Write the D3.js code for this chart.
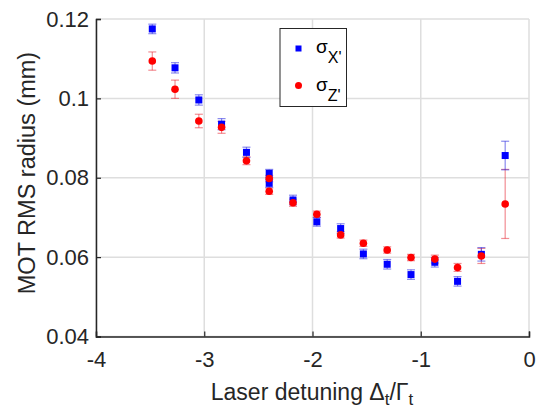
<!DOCTYPE html>
<html>
<head>
<meta charset="utf-8">
<script src="https://cdn.jsdelivr.net/npm/d3@7"></script>
<style>
  body { margin: 0; background: #fff; }
  svg { font-family: "Liberation Sans", Arial, sans-serif; }
</style>
</head>
<body>
<script>
// detuning values (Delta_t / Gamma_t)
const detuning = [-3.48, -3.27, -3.05, -2.84, -2.61, -2.40, -2.40, -2.18, -1.96, -1.74, -1.53, -1.31, -1.09, -0.87, -0.66, -0.44, -0.22]
// sigma x' (mm) and error
const sigmaX = [0.1175, 0.1077, 0.0996, 0.0935, 0.0864, 0.0811, 0.0786, 0.0744, 0.0689, 0.0672, 0.0608, 0.0582, 0.0556, 0.0587, 0.0539, 0.0607, 0.0856]
const errX   = [0.0012, 0.0013, 0.0013, 0.0014, 0.0013, 0.0010, 0.0010, 0.0012, 0.0011, 0.0012, 0.0012, 0.0012, 0.0012, 0.0012, 0.0012, 0.0017, 0.0036]
// sigma z' (mm) and error
const sigmaZ = [0.1094, 0.1023, 0.0943, 0.0927, 0.0843, 0.0798, 0.0766, 0.0737, 0.0708, 0.0656, 0.0635, 0.0618, 0.0599, 0.0595, 0.0574, 0.0603, 0.0734]
const errZ   = [0.0023, 0.0023, 0.0017, 0.0015, 0.0010, 0.0008, 0.0008, 0.0009, 0.0008, 0.0008, 0.0008, 0.0008, 0.0008, 0.0010, 0.0010, 0.0019, 0.0087]

const xTicks = [-4, -3, -2, -1, 0]
const yTicks = [0.04, 0.06, 0.08, 0.1, 0.12]
const xTickLabels = ["-4", "-3", "-2", "-1", "0"]
const yTickLabels = ["0.04", "0.06", "0.08", "0.1", "0.12"]

const W = 539, H = 410
const margin = {left: 96, right: 10, top: 19, bottom: 73.5}

const svg = d3.select("body").append("svg").attr("width", W).attr("height", H)

const x = d3.scaleLinear().domain([-4, 0]).range([margin.left, W - margin.right])
const y = d3.scaleLinear().domain([0.04, 0.12]).range([H - margin.bottom, margin.top])

// grid
svg.append("g").selectAll("line").data(xTicks).enter().append("line")
   .attr("x1", d => x(d)).attr("x2", d => x(d))
   .attr("y1", y(0.04)).attr("y2", y(0.12))
   .attr("stroke", "#dedede").attr("stroke-width", 1.5)
svg.append("g").selectAll("line").data(yTicks).enter().append("line")
   .attr("x1", x(-4)).attr("x2", x(0))
   .attr("y1", d => y(d)).attr("y2", d => y(d))
   .attr("stroke", "#dedede").attr("stroke-width", 1.5)

// axes
const xAxis = d3.axisBottom(x).tickValues(xTicks).tickSize(-5).tickPadding(15)
                .tickFormat((d, i) => xTickLabels[i])
const yAxis = d3.axisLeft(y).tickValues(yTicks).tickSize(-5).tickPadding(7)
                .tickFormat((d, i) => yTickLabels[i])

function styleAxis(g) {
  g.select(".domain").attr("stroke", "#262626").attr("stroke-width", 1.5)
  g.selectAll(".tick line").attr("stroke", "#262626").attr("stroke-width", 1.2)
  g.selectAll("text").attr("fill", "#262626").style("font-size", "22px").style("font-family", "Liberation Sans, Arial, sans-serif")
}

svg.append("g").attr("transform", `translate(0,${y(0.04)})`).call(xAxis).call(styleAxis)
svg.append("g").attr("transform", `translate(${x(-4)},0)`).call(yAxis).call(styleAxis)

// axis labels
svg.append("text")
   .attr("transform", `translate(35,173) rotate(-90)`)
   .attr("text-anchor", "middle")
   .attr("fill", "#262626").style("font-size", "23.5px")
   .text("MOT RMS radius (mm)")

const xl = svg.append("text")
   .attr("x", 312).attr("y", 400)
   .attr("text-anchor", "middle")
   .attr("fill", "#262626").style("font-size", "23px")
xl.append("tspan").text("Laser detuning \u0394")
xl.append("tspan").attr("dy", 5).style("font-size", "17px").text("t")
xl.append("tspan").attr("dy", -5).text("/\u0393")
xl.append("tspan").attr("dy", 5).style("font-size", "17px").text("t")

// error bars
function errorBars(vals, errs, color) {
  const g = svg.append("g").attr("stroke", color).attr("stroke-width", 1.2).attr("stroke-opacity", 0.55)
  detuning.forEach(function(d, i) {
    const cx = x(d), top = y(vals[i] + errs[i]), bot = y(vals[i] - errs[i])
    g.append("line").attr("x1", cx).attr("x2", cx).attr("y1", top).attr("y2", bot)
    g.append("line").attr("x1", cx - 4).attr("x2", cx + 4).attr("y1", top).attr("y2", top)
    g.append("line").attr("x1", cx - 4).attr("x2", cx + 4).attr("y1", bot).attr("y2", bot)
  })
}
errorBars(sigmaZ, errZ, "#e8303a")
errorBars(sigmaX, errX, "#2a2ae0")

// markers
svg.append("g").selectAll("rect").data(detuning).enter().append("rect")
   .attr("x", d => x(d) - 3.5).attr("y", (d, i) => y(sigmaX[i]) - 3.5)
   .attr("width", 7).attr("height", 7)
   .attr("fill", "#0000ff")
svg.append("g").selectAll("circle").data(detuning).enter().append("circle")
   .attr("cx", d => x(d)).attr("cy", (d, i) => y(sigmaZ[i]))
   .attr("r", 3.8)
   .attr("fill", "#ff0000")

// legend
const leg = svg.append("g")
leg.append("rect").attr("x", 280).attr("y", 28.5).attr("width", 66.5).attr("height", 78)
   .attr("fill", "#fff").attr("stroke", "#262626").attr("stroke-width", 1)
leg.append("rect").attr("x", 295.5).attr("y", 45.5).attr("width", 6).attr("height", 6).attr("fill", "#0000ff")
leg.append("circle").attr("cx", 298.5).attr("cy", 85.5).attr("r", 3.5).attr("fill", "#ff0000")
const lt1 = leg.append("text").attr("x", 316).attr("y", 53).attr("fill", "#000").style("font-size", "19px")
lt1.append("tspan").text("\u03c3")
lt1.append("tspan").attr("dy", 10).style("font-size", "16px").text("X'")
const lt2 = leg.append("text").attr("x", 316).attr("y", 91).attr("fill", "#000").style("font-size", "19px")
lt2.append("tspan").text("\u03c3")
lt2.append("tspan").attr("dy", 10).style("font-size", "16px").text("Z'")
</script>
</body>
</html>
